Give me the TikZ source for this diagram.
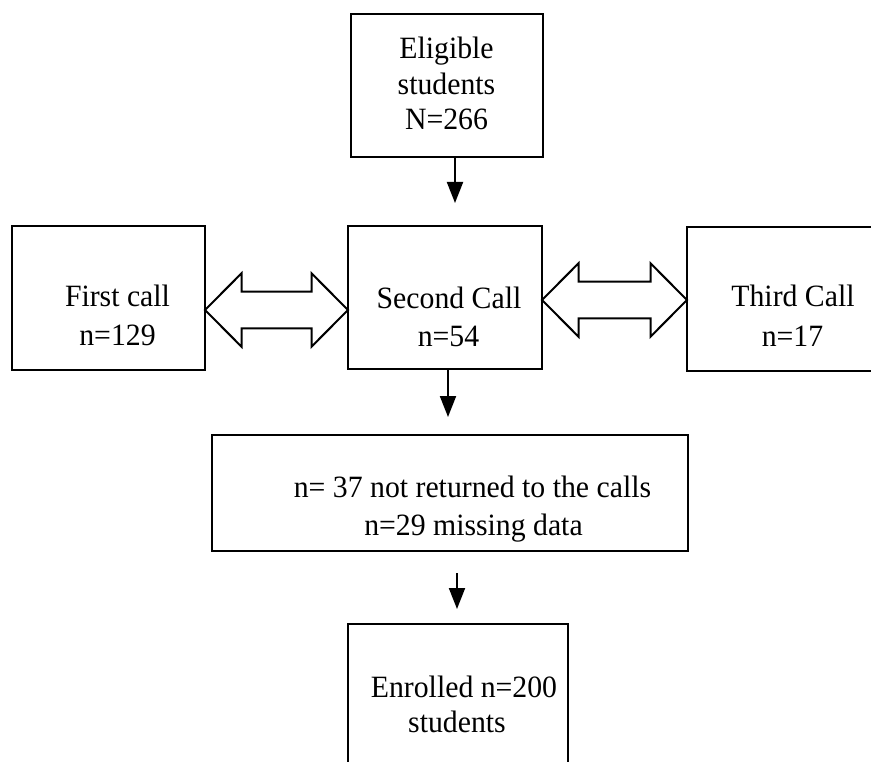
\documentclass[tikz,border=0pt]{standalone}
\usepackage{fontspec}
\setmainfont[FakeStretch=0.96]{Liberation Serif}
\usetikzlibrary{arrows.meta,calc}

\tikzset{
  box/.style={draw, line width=2pt, minimum width=#1, inner sep=0pt, outer sep=0pt},
  txt/.style={anchor=base, inner sep=0pt, font=\fontsize{31}{37}\selectfont},
  arr/.style={line width=2pt, -{Triangle[length=21pt,width=16pt]}},
  fat/.style={draw, line width=2pt, fill=white, line join=miter}
}

% hollow double-headed block arrow between two boxes at the height of a coordinate
\newcommand\fatarrow[3]{%
  \draw[fat] (#1.east |- #3) -- ++(36.5,-36.7) -- ++(0,18.4)
    -- ($(#2.west |- #3)+(-36.5,-18.3)$) -- ++(0,-18.4)
    -- (#2.west |- #3) -- ++(-36.5,36.7) -- ++(0,-18.4)
    -- ($(#1.east |- #3)+(36.5,18.3)$) -- ++(0,18.4) -- cycle;}

\begin{document}
\begin{tikzpicture}[x=1pt, y=-1pt]
\path[use as bounding box, clip] (0,0) rectangle (871,762);
\fill[white] (0,0) rectangle (871,762);

% boxes
\node[box=192pt, minimum height=143pt] (elig)   at (447,85.5)  {};
\node[box=193pt, minimum height=144pt] (first)  at (108.5,298) {};
\node[box=194pt, minimum height=143pt] (second) at (445,297.5) {};
\node[box=193pt, minimum height=144pt] (third)  at (783.5,299) {};
\node[box=476pt, minimum height=116pt] (lost)   at (450,493)   {};
\node[box=220pt, minimum height=146pt] (enrol)  at (458,697)   {};

% box texts
\node[txt] (elig1) at (446.5,59)  {Eligible};
\node[txt] (elig2) at (446.5,95)  {students};
\node[txt] (elig3) at (446.5,130) {N=266};

\node[txt] (first1) at (117.5,307) {First call};
\node[txt] (first2) at (117.5,345) {n=129};

\node[txt] (second1) at (449,309)   {Second Call};
\node[txt] (second2) at (448.5,347) {n=54};

\node[txt] (third1) at (793,307)   {Third Call};
\node[txt] (third2) at (792.5,347) {n=17};

\node[txt] (lost1) at (472.5,497) {n= 37 not returned to the calls};
\node[txt] (lost2) at (473.5,535) {n=29 missing data};

\node[txt] (enrol1) at (464,697) {Enrolled n=200};
\node[txt] (enrol2) at (457,732) {students};

% downward arrows
\coordinate (a1) at (455,203);
\draw[arr] (elig.south -| a1) -- (a1);
\coordinate (a2) at (448,417);
\draw[arr] (second.south -| a2) -- (a2);
\coordinate (a3s) at (457,573);
\coordinate (a3e) at (457,609);
\draw[arr] (a3s) -- (a3e);

% two-way block arrows
\coordinate (yl) at (0,310);
\coordinate (yr) at (0,300);
\fatarrow{first}{second}{yl}
\fatarrow{second}{third}{yr}
\end{tikzpicture}
\end{document}
